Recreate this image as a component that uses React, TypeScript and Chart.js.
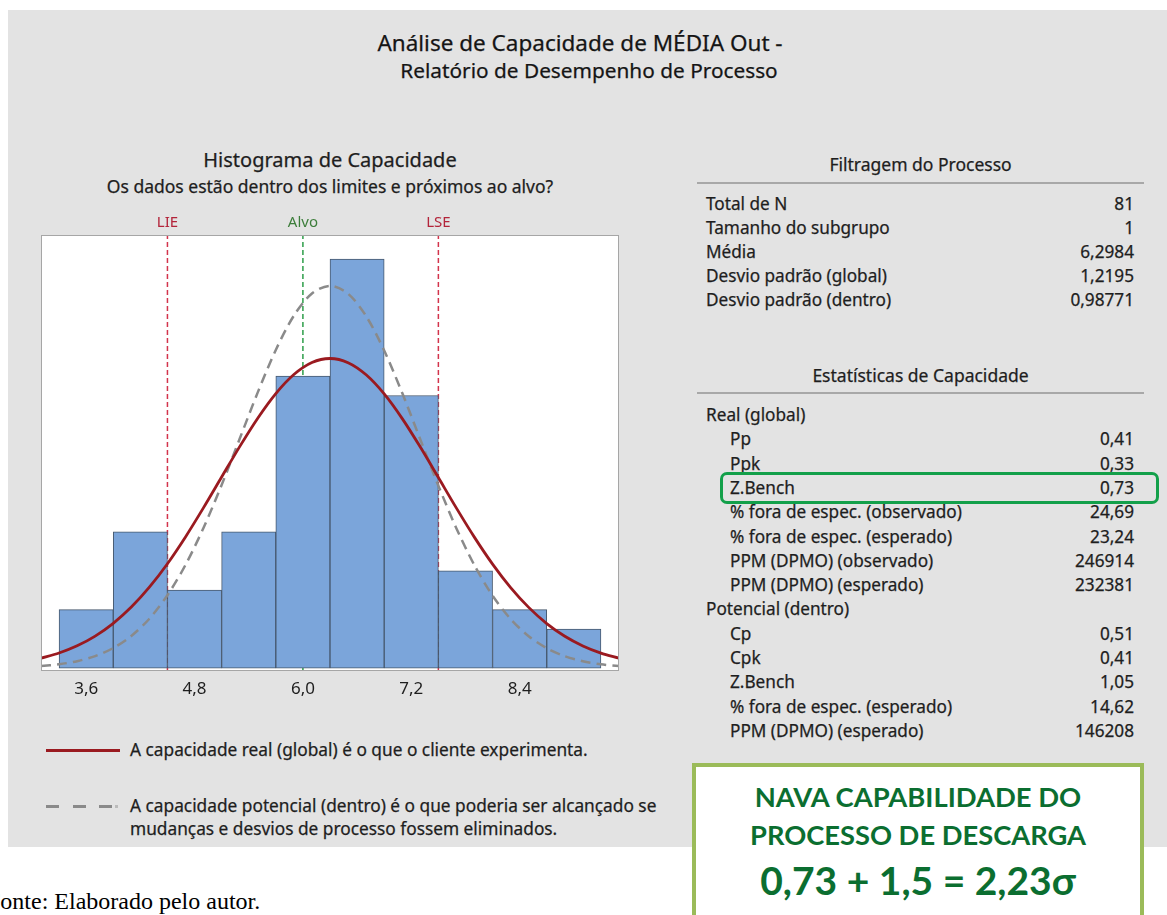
import React, { useEffect, useRef } from "react";
import { Chart, registerables } from "chart.js";

Chart.register(...registerables);

// ---------- data ----------
const binCenters = [3.6, 4.2, 4.8, 5.4, 6.0, 6.6, 7.2, 7.8, 8.4, 9.0];
const binCounts = [3, 7, 4, 7, 15, 21, 14, 5, 3, 2];

const curveX = [
  3.1, 3.3, 3.5, 3.7, 3.9, 4.1, 4.3, 4.5, 4.7, 4.9, 5.1, 5.3, 5.5, 5.7, 5.9, 6.1, 6.3,
  6.5, 6.7, 6.9, 7.1, 7.3, 7.5, 7.7, 7.9, 8.1, 8.3, 8.5, 8.7, 8.9, 9.1, 9.3, 9.5,
];
const overallCurve = [
  0.51, 0.774, 1.143, 1.643, 2.298, 3.131, 4.152, 5.359, 6.735, 8.239, 9.81, 11.372,
  12.832, 14.095, 15.073, 15.69, 15.899, 15.683, 15.06, 14.078, 12.81, 11.348, 9.785,
  8.214, 6.712, 5.339, 4.134, 3.117, 2.287, 1.633, 1.136, 0.769, 0.507,
];
const withinCurve = [
  0.104, 0.196, 0.355, 0.617, 1.029, 1.649, 2.535, 3.741, 5.3, 7.206, 9.403, 11.777,
  14.159, 16.339, 18.097, 19.238, 19.63, 19.226, 18.073, 16.307, 14.122, 11.739, 9.366,
  7.173, 5.272, 3.719, 2.519, 1.637, 1.021, 0.611, 0.351, 0.194, 0.103,
];

const specNames = ["LIE", "Alvo", "LSE"];
const specValues = [4.5, 6.0, 7.5];
const xTicks = [3.6, 4.8, 6.0, 7.2, 8.4];
const xMin = 3.1;
const xMax = 9.5;

const processLabels = [
  "Total de N",
  "Tamanho do subgrupo",
  "Média",
  "Desvio padrão (global)",
  "Desvio padrão (dentro)",
];
const processValues = ["81", "1", "6,2984", "1,2195", "0,98771"];

const capabilityLabels = [
  "Real (global)",
  "Pp",
  "Ppk",
  "Z.Bench",
  "% fora de espec. (observado)",
  "% fora de espec. (esperado)",
  "PPM (DPMO) (observado)",
  "PPM (DPMO) (esperado)",
  "Potencial (dentro)",
  "Cp",
  "Cpk",
  "Z.Bench",
  "% fora de espec. (esperado)",
  "PPM (DPMO) (esperado)",
];
const capabilityValues = [
  "", "0,41", "0,33", "0,73", "24,69", "23,24", "246914", "232381",
  "", "0,51", "0,41", "1,05", "14,62", "146208",
];
const highlightRow = 3;

const legendTexts = [
  "A capacidade real (global) é o que o cliente experimenta.",
  "A capacidade potencial (dentro) é o que poderia ser alcançado se",
  "mudanças e desvios de processo fossem eliminados.",
];

const boxLines = ["NAVA CAPABILIDADE DO", "PROCESSO DE DESCARGA", "0,73 + 1,5 = 2,23σ"];

// ---------- styles ----------
const UI = '"Noto Sans", "Open Sans", sans-serif';
const TXT = "#1e1e1e";
const RED = "#9A1A20";
const GREY = "#8A8A8A";
const STROKE = "0.25px";

function Txt(props: {
  x: number;
  cy: number;
  size: number;
  w?: number;
  align?: "left" | "center" | "right";
  color?: string;
  weight?: number;
  family?: string;
  stroke?: string;
  children: React.ReactNode;
}) {
  const lh = Math.round(props.size * 1.4);
  return (
    <div
      style={{
        position: "absolute",
        left: props.x,
        top: props.cy - lh / 2,
        width: props.w,
        height: lh,
        lineHeight: lh + "px",
        fontSize: props.size,
        fontFamily: props.family || UI,
        fontWeight: props.weight || 400,
        color: props.color || TXT,
        textAlign: props.align || "left",
        whiteSpace: "nowrap",
        WebkitTextStroke: props.stroke || "0px",
      }}
    >
      {props.children}
    </div>
  );
}

function Histogram() {
  const ref = useRef<HTMLCanvasElement | null>(null);
  useEffect(() => {
    if (!ref.current) return;
    const plotBox = {
      id: "plotBox",
      beforeDatasetsDraw(chart: any) {
        const { ctx, chartArea: a } = chart;
        ctx.save();
        ctx.fillStyle = "#ffffff";
        ctx.fillRect(a.left, a.top, a.right - a.left, a.bottom - a.top);
        ctx.restore();
      },
      afterDraw(chart: any) {
        const { ctx, chartArea: a, scales } = chart;
        ctx.save();
        ctx.strokeStyle = "#A6A6A6";
        ctx.lineWidth = 1;
        ctx.strokeRect(a.left + 0.5, a.top + 0.5, a.right - a.left - 1, a.bottom - a.top - 1);
        ctx.font = `15px ${UI}`;
        ctx.textAlign = "center";
        ctx.textBaseline = "middle";
        specNames.forEach((n, i) => {
          ctx.fillStyle = n === "Alvo" ? "#3C7D3A" : "#B3243A";
          ctx.fillText(n, scales.x.getPixelForValue(specValues[i]), a.top - 12);
        });
        ctx.restore();
      },
    };
    const yMin = -0.15;
    const yMax = 22.24;
    const specSets = specValues.map((v, i) => ({
      type: "line" as const,
      data: [
        { x: v, y: yMin },
        { x: v, y: yMax },
      ],
      borderColor: specNames[i] === "Alvo" ? "#2E9E4A" : "#D3344C",
      borderWidth: 1.5,
      borderDash: [5, 3],
      pointRadius: 0,
      order: 5,
    }));
    const chart = new Chart(ref.current, {
      type: "bar",
      data: {
        datasets: [
          ...specSets,
          {
            type: "bar",
            data: binCenters.map((x, i) => ({ x, y: binCounts[i] })),
            backgroundColor: "#7BA5DA",
            borderColor: "#46586D",
            borderWidth: 1,
            borderSkipped: false,
            barPercentage: 1,
            categoryPercentage: 1,
            order: 4,
          },
          {
            type: "line",
            data: curveX.map((x, i) => ({ x, y: withinCurve[i] })),
            borderColor: GREY,
            borderWidth: 2.5,
            borderDash: [10, 6],
            pointRadius: 0,
            tension: 0.3,
            order: 2,
          },
          {
            type: "line",
            data: curveX.map((x, i) => ({ x, y: overallCurve[i] })),
            borderColor: RED,
            borderWidth: 2.8,
            pointRadius: 0,
            tension: 0.3,
            order: 1,
          },
        ] as any,
      },
      options: {
        animation: false,
        responsive: false,
        maintainAspectRatio: false,
        layout: { padding: { left: 11, right: 11, top: 35, bottom: 0 } },
        plugins: { legend: { display: false }, tooltip: { enabled: false } },
        scales: {
          x: {
            type: "linear",
            min: xMin,
            max: xMax,
            offset: false,
            grid: { display: false, drawTicks: false },
            border: { display: false },
            afterBuildTicks: (s: any) => {
              s.ticks = xTicks.map((v) => ({ value: v }));
            },
            afterFit: (s: any) => {
              s.height = 39;
            },
            ticks: {
              padding: 8,
              autoSkip: false,
              maxRotation: 0,
              color: TXT,
              font: { size: 17, family: UI },
              callback: (v: any) => Number(v).toFixed(1).replace(".", ","),
            },
          },
          y: { display: false, min: yMin, max: yMax },
        },
      } as any,
      plugins: [plotBox],
    });
    return () => chart.destroy();
  }, []);
  return (
    <canvas
      ref={ref}
      width={600}
      height={510}
      style={{ position: "absolute", left: 30, top: 200, width: 600, height: 510 }}
    />
  );
}

const rowStyle = (top: number): React.CSSProperties => ({
  position: "absolute",
  left: 706,
  top,
  width: 428,
  height: 24,
  lineHeight: "24px",
  fontSize: 17.2,
  fontFamily: UI,
  color: TXT,
  display: "flex",
  justifyContent: "space-between",
  whiteSpace: "nowrap",
  WebkitTextStroke: STROKE,
});

export default function App() {
  const boxFont = "Lato, sans-serif";
  return (
    <div
      style={{
        position: "fixed",
        left: 0,
        top: 0,
        width: 1167,
        height: 915,
        overflow: "hidden",
        background: "#ffffff",
      }}
    >
      {/* grey Minitab panel */}
      <div
        style={{
          position: "absolute",
          left: 8,
          top: 10,
          width: 1159,
          height: 837,
          background: "#E3E3E3",
        }}
      />
      <Txt x={0} w={1160} cy={42} size={22.5} align="center" color="#151515" stroke={STROKE}>
        Análise de Capacidade de MÉDIA Out -
      </Txt>
      <Txt x={0} w={1178} cy={70} size={20.8} align="center" color="#151515" stroke={STROKE}>
        Relatório de Desempenho de Processo
      </Txt>

      <Txt x={30} w={600} cy={160} size={20} align="center" stroke={STROKE}>
        Histograma de Capacidade
      </Txt>
      <Txt x={30} w={600} cy={186} size={17.5} align="center" stroke={STROKE}>
        Os dados estão dentro dos limites e próximos ao alvo?
      </Txt>

      <Histogram />

      {/* legend */}
      <div style={{ position: "absolute", left: 46, top: 749, width: 74, height: 3, background: RED }} />
      <Txt x={130} cy={750} size={17.3} stroke={STROKE}>
        {legendTexts[0]}
      </Txt>
      {[46, 73, 99].map((x) => (
        <div
          key={x}
          style={{ position: "absolute", left: x, top: 805, width: 13, height: 3, background: GREY }}
        />
      ))}
      <div style={{ position: "absolute", left: 115, top: 805, width: 3, height: 3, background: "#bbb" }} />
      <Txt x={130} cy={806} size={17.3} stroke={STROKE}>
        {legendTexts[1]}
      </Txt>
      <Txt x={130} cy={829} size={17.3} stroke={STROKE}>
        {legendTexts[2]}
      </Txt>

      {/* Filtragem do Processo */}
      <Txt x={697} w={447} cy={164} size={17.5} align="center" stroke={STROKE}>
        Filtragem do Processo
      </Txt>
      <div style={{ position: "absolute", left: 697, top: 182, width: 447, height: 2, background: "#A8A8A8" }} />
      {processLabels.map((l, i) => (
        <div key={"p" + i} style={rowStyle(204 + i * 24 - 12)}>
          <span>{l}</span>
          <span>{processValues[i]}</span>
        </div>
      ))}

      {/* Estatísticas de Capacidade */}
      <Txt x={697} w={447} cy={375} size={17.5} align="center" stroke={STROKE}>
        Estatísticas de Capacidade
      </Txt>
      <div style={{ position: "absolute", left: 697, top: 392, width: 447, height: 2, background: "#A8A8A8" }} />
      {capabilityLabels.map((l, i) => (
        <div key={"c" + i} style={rowStyle(415 + i * 24.3 - 12)}>
          <span style={{ paddingLeft: capabilityValues[i] === "" ? 0 : 24 }}>{l}</span>
          <span>{capabilityValues[i]}</span>
        </div>
      ))}
      <div
        style={{
          position: "absolute",
          left: 720,
          top: 415 + highlightRow * 24.3 - 16,
          width: 439,
          height: 32,
          boxSizing: "border-box",
          border: "3.5px solid #13A04A",
          borderRadius: 7,
        }}
      />

      {/* green annotation box */}
      <div
        style={{
          position: "absolute",
          left: 692,
          top: 763,
          width: 452,
          height: 200,
          boxSizing: "border-box",
          border: "4.5px solid #9BBB59",
          background: "#ffffff",
        }}
      />
      <Txt x={692} w={452} cy={797} size={27.4} weight={700} align="center" color="#0B6E30" family={boxFont}>
        {boxLines[0]}
      </Txt>
      <Txt x={692} w={452} cy={835} size={27.3} weight={700} align="center" color="#0B6E30" family={boxFont}>
        {boxLines[1]}
      </Txt>
      <Txt x={692} w={452} cy={880} size={39} weight={700} align="center" color="#0B6E30" family={boxFont}>
        {boxLines[2]}
      </Txt>

      {/* source note */}
      <Txt x={-13} cy={901} size={24} family='"Liberation Serif", "Times New Roman", serif' color="#000">
        Fonte: Elaborado pelo autor.
      </Txt>
    </div>
  );
}
